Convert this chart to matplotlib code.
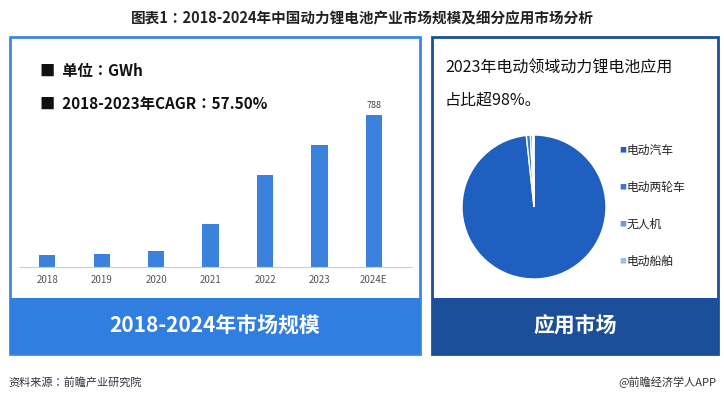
import matplotlib.pyplot as plt
from matplotlib import font_manager
from matplotlib.patches import Rectangle

names = {f.name for f in font_manager.fontManager.ttflist}
cjk = [n for n in ["Noto Sans CJK SC", "Noto Sans CJK JP", "Noto Sans CJK TC", "Noto Sans CJK KR"] if n in names]
plt.rcParams["font.family"] = cjk + ["DejaVu Sans"]

years = ["2018", "2019", "2020", "2021", "2022", "2023", "2024E"]
market_gwh = [61, 69, 82, 225, 480, 632, 788]
pie_labels = ["电动汽车", "电动两轮车", "无人机", "电动船舶"]
pie_shares = [98.3, 0.9, 0.5, 0.3]
pie_colors = ["#1f5fbf", "#3a78c9", "#6a9bd8", "#9dbfe6"]

W, H = 724, 403
fig = plt.figure(figsize=(W / 100, H / 100), dpi=100)


def box(x, y, w, h):
    # pixel box (top-left origin) -> figure fraction rect
    return [x / W, 1 - (y + h) / H, w / W, h / H]


def rect(x, y, w, h, **kw):
    fig.patches.append(Rectangle((x / W, 1 - (y + h) / H), w / W, h / H,
                                 transform=fig.transFigure, zorder=-5, **kw))


fig.text(0.5, 1 - 18 / H, "图表1：2018-2024年中国动力锂电池产业市场规模及细分应用市场分析",
         ha="center", va="center", fontsize=10.5, weight="bold", color="#222222")

# left panel
rect(10, 37, 410, 317, facecolor="white", edgecolor="#3d86e0", lw=2)
rect(10, 298, 410, 56, facecolor="#2f7ee0", edgecolor="none")
fig.text(215 / W, 1 - 326 / H, "2018-2024年市场规模", ha="center", va="center",
         fontsize=15, weight="bold", color="white")
# right panel
rect(432, 37, 286, 317, facecolor="white", edgecolor="#1c4f9a", lw=2)
rect(432, 298, 286, 56, facecolor="#1c4f9a", edgecolor="none")
fig.text(575 / W, 1 - 326 / H, "应用市场", ha="center", va="center",
         fontsize=15, weight="bold", color="white")

fig.text(40 / W, 1 - 71 / H, "■  单位：GWh", ha="left", va="center", fontsize=11,
         weight="bold", color="#111111")
fig.text(40 / W, 1 - 104 / H, "■  2018-2023年CAGR：57.50%", ha="left", va="center",
         fontsize=11, weight="bold", color="#111111")

ax = fig.add_axes(box(20, 100, 392, 167))
ax.bar(range(len(years)), market_gwh, width=0.3, color="#3b82dc")
ax.set_ylim(0, 788 * 1.1)
ax.set_xlim(-0.5, len(years) - 0.3)
ax.set_xticks(range(len(years)))
ax.set_xticklabels(years, fontsize=7, color="#555555")
ax.tick_params(length=0, pad=6)
ax.set_yticks([])
for s in ["top", "right", "left"]:
    ax.spines[s].set_visible(False)
ax.spines["bottom"].set_color("#cccccc")
ax.text(len(years) - 1, market_gwh[-1] + 25, str(market_gwh[-1]), ha="center",
        va="bottom", fontsize=6.5, color="#444444")
ax.patch.set_alpha(0)

fig.text(445 / W, 1 - 68 / H, "2023年电动领域动力锂电池应用", ha="left", va="center",
         fontsize=11.5, color="#111111")
fig.text(445 / W, 1 - 100 / H, "占比超98%。", ha="left", va="center",
         fontsize=11.5, color="#111111")

pax = fig.add_axes(box(462, 135, 144, 144))
pax.pie(pie_shares, colors=pie_colors, startangle=90, counterclock=False,
        wedgeprops=dict(edgecolor="white", linewidth=1))
pax.set_xlim(-1, 1)
pax.set_ylim(-1, 1)
pax.set_aspect("equal")

for i, lab in enumerate(pie_labels):
    yy = 150 + i * 37
    fig.text(619 / W, 1 - yy / H, "■", ha="left", va="center", fontsize=5,
             color=pie_colors[i])
    fig.text(627 / W, 1 - yy / H, lab, ha="left", va="center", fontsize=8.5,
             color="#222222")

fig.text(8 / W, 1 - 382 / H, "资料来源：前瞻产业研究院", ha="left", va="center",
         fontsize=8, color="#333333")
fig.text(716 / W, 1 - 382 / H, "@前瞻经济学人APP", ha="right", va="center",
         fontsize=8, color="#333333")

fig.savefig("out.png", dpi=100)
